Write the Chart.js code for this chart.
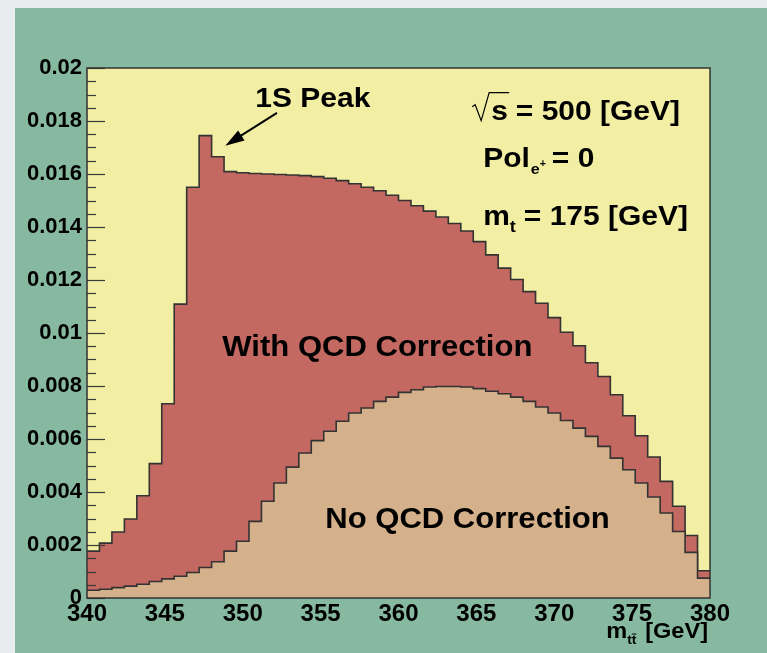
<!DOCTYPE html>
<html>
<head>
<meta charset="utf-8">
<script src="https://cdn.jsdelivr.net/npm/chart.js@4.4.0/dist/chart.umd.min.js"></script>
<style>
  html, body { margin: 0; padding: 0; background: #e9ecef; }
  #panel { position: absolute; left: 15px; top: 8px; width: 752px; height: 645px; background: #86b9a0; }
  #wrap { position: absolute; left: 0; top: 0; width: 767px; height: 653px; }
</style>
</head>
<body>
<div id="panel"></div>
<div id="wrap"><canvas id="mtt-chart" width="767" height="653"></canvas></div>
<script>
// histogram range, 50 bins of 0.8 GeV
const massMin = 340;
const massMax = 380;
const binWidth = 0.8;

// bin contents
const withQCD = [
  0.00177, 0.00207, 0.00249, 0.00298, 0.00386, 0.00507, 0.00733, 0.01109, 0.01550, 0.01745,
  0.01665, 0.01609, 0.01605, 0.01602, 0.01600, 0.01598, 0.01596, 0.01594, 0.01590, 0.01584,
  0.01575, 0.01563, 0.01550, 0.01537, 0.01520, 0.01500, 0.01480, 0.01460, 0.01438, 0.01413,
  0.01385, 0.01345, 0.01295, 0.01245, 0.01202, 0.01156, 0.01112, 0.01058, 0.01003, 0.00952,
  0.00888, 0.00836, 0.00767, 0.00688, 0.00612, 0.00532, 0.00440, 0.00346, 0.00236, 0.00103
];
const noQCD = [
  0.00029, 0.00033, 0.00039, 0.00045, 0.00052, 0.00062, 0.00072, 0.00082, 0.00096, 0.00115,
  0.00137, 0.00177, 0.00214, 0.00289, 0.00365, 0.00434, 0.00494, 0.00547, 0.00594, 0.00629,
  0.00667, 0.00698, 0.00717, 0.00742, 0.00758, 0.00776, 0.00786, 0.00796, 0.00798, 0.00798,
  0.00796, 0.00790, 0.00780, 0.00771, 0.00758, 0.00742, 0.00721, 0.00698, 0.00670, 0.00641,
  0.00610, 0.00572, 0.00528, 0.00484, 0.00434, 0.00381, 0.00321, 0.00251, 0.00172, 0.00075
];

const xTickLabels = ['340', '345', '350', '355', '360', '365', '370', '375', '380'];
const yTickLabels = ['0', '0.002', '0.004', '0.006', '0.008', '0.01', '0.012', '0.014', '0.016', '0.018', '0.02'];

const fontFamily = '"Liberation Sans", Arial, Helvetica, sans-serif';

// stepped line: one point per low edge, plus the upper edge of the last bin
function toSteps(values) {
  const pts = values.map((v, i) => ({ x: massMin + i * binWidth, y: v }));
  pts.push({ x: massMax, y: values[values.length - 1] });
  return pts;
}

function stretchText(ctx, str, x, y, size, sx) {
  ctx.save();
  ctx.font = 'bold ' + size + 'px ' + fontFamily;
  ctx.translate(x, y);
  ctx.scale(sx, 1);
  ctx.fillText(str, 0, 0);
  const w = ctx.measureText(str).width * sx;
  ctx.restore();
  return w;
}

const rootStyle = {
  id: 'rootStyle',
  beforeDatasetsDraw(chart) {
    const { ctx, chartArea: a } = chart;
    ctx.save();
    ctx.fillStyle = '#f2efa4';
    ctx.fillRect(a.left, a.top, a.right - a.left, a.bottom - a.top);
    ctx.restore();
  },
  afterDatasetsDraw(chart) {
    const { ctx, chartArea: a } = chart;
    const xs = chart.scales.x, ys = chart.scales.y;
    const px = v => xs.getPixelForValue(v);
    const py = v => ys.getPixelForValue(v);

    ctx.save();
    // y ticks pointing inward
    ctx.strokeStyle = '#3a3a3a';
    ctx.lineWidth = 1.2;
    for (let i = 0; i <= 40; i++) {
      const y = Math.round(py(i * 0.0005)) + 0.5;
      const len = i % 4 === 0 ? 18 : 9;
      ctx.beginPath();
      ctx.moveTo(a.left, y);
      ctx.lineTo(a.left + len, y);
      ctx.stroke();
    }
    // frame
    ctx.strokeStyle = '#333';
    ctx.lineWidth = 1.5;
    ctx.strokeRect(a.left, a.top, a.right - a.left, a.bottom - a.top);

    ctx.fillStyle = '#000';
    ctx.strokeStyle = '#000';
    ctx.textBaseline = 'alphabetic';
    const sx = 1.07;

    // 1S peak label and arrow
    stretchText(ctx, '1S Peak', px(350.81), py(0.01854), 28, sx);
    const tx = px(348.88), ty = py(0.01707);
    const fx = px(352.2), fy = py(0.01831);
    const ang = Math.atan2(ty - fy, tx - fx);
    ctx.lineWidth = 2;
    ctx.beginPath();
    ctx.moveTo(fx, fy);
    ctx.lineTo(tx - 12 * Math.cos(ang), ty - 12 * Math.sin(ang));
    ctx.stroke();
    ctx.beginPath();
    ctx.moveTo(tx, ty);
    ctx.lineTo(tx - 19 * Math.cos(ang) + 6 * Math.sin(ang), ty - 19 * Math.sin(ang) - 6 * Math.cos(ang));
    ctx.lineTo(tx - 19 * Math.cos(ang) - 6 * Math.sin(ang), ty - 19 * Math.sin(ang) + 6 * Math.cos(ang));
    ctx.closePath();
    ctx.fill();

    // sqrt(s) = 500 [GeV]
    let x0 = px(364.73), b = py(0.01805);
    ctx.lineWidth = 1.2;
    ctx.beginPath();
    ctx.moveTo(x0, b - 13);
    ctx.lineTo(x0 + 3, b - 15);
    ctx.lineTo(x0 + 9, b + 1);
    ctx.lineTo(x0 + 17, b - 27);
    ctx.lineTo(x0 + 37, b - 27);
    ctx.stroke();
    let w = stretchText(ctx, 's', x0 + 19, b, 28, sx);
    stretchText(ctx, '= 500 [GeV]', x0 + 19 + w + 8, b, 28, sx);

    // Pol_e+ = 0
    x0 = px(365.44); b = py(0.01627);
    w = stretchText(ctx, 'Pol', x0, b, 28, sx);
    const we = stretchText(ctx, 'e', x0 + w + 1, b + 7, 15, sx);
    stretchText(ctx, '+', x0 + w + 1 + we, b, 10, sx);
    stretchText(ctx, '= 0', x0 + w + 22, b, 28, sx);

    // m_t = 175 [GeV]
    x0 = px(365.44); b = py(0.01409);
    w = stretchText(ctx, 'm', x0, b, 28, sx);
    stretchText(ctx, 't', x0 + w, b + 7, 17, sx);
    stretchText(ctx, '= 175 [GeV]', x0 + w + 14, b, 28, sx);

    // region labels
    stretchText(ctx, 'With QCD Correction', px(348.69), py(0.00914), 29, sx);
    stretchText(ctx, 'No QCD Correction', px(355.30), py(0.00265), 29, sx);

    // axis title m_tt [GeV], right aligned below the axis
    const tb = a.bottom + 40;
    ctx.font = 'bold 22px ' + fontFamily;
    const wm = ctx.measureText('m').width * sx;
    const wg = ctx.measureText('[GeV]').width * sx;
    const ax = a.right - 2 - wg - 6 - 12 - wm;
    stretchText(ctx, 'm', ax, tb, 22, sx);
    const wt = stretchText(ctx, 't', ax + wm, tb + 6, 13, sx);
    stretchText(ctx, 't', ax + wm + wt, tb + 6, 13, sx);
    ctx.lineWidth = 1;
    ctx.beginPath();
    ctx.moveTo(ax + wm + wt, tb - 4);
    ctx.lineTo(ax + wm + 2 * wt, tb - 4);
    ctx.stroke();
    stretchText(ctx, '[GeV]', a.right - 2 - wg, tb, 22, sx);
    ctx.restore();
  }
};

new Chart(document.getElementById('mtt-chart'), {
  type: 'line',
  data: {
    datasets: [
      {
        label: 'No QCD Correction',
        data: toSteps(noQCD),
        stepped: 'before',
        fill: 'origin',
        backgroundColor: '#d4b18a',
        borderColor: '#333333',
        borderWidth: 1.6,
        pointRadius: 0,
        order: 0
      },
      {
        label: 'With QCD Correction',
        data: toSteps(withQCD),
        stepped: 'before',
        fill: 'origin',
        backgroundColor: '#c46862',
        borderColor: '#333333',
        borderWidth: 1.6,
        pointRadius: 0,
        order: 1
      }
    ]
  },
  options: {
    responsive: false,
    devicePixelRatio: 1,
    animation: false,
    layout: { padding: { top: 68, right: 57, left: 0, bottom: 0 } },
    plugins: {
      legend: { display: false },
      tooltip: { enabled: false }
    },
    scales: {
      x: {
        type: 'linear',
        min: massMin,
        max: massMax,
        grid: { display: false, drawTicks: false },
        border: { display: false },
        ticks: {
          stepSize: 5,
          padding: 2,
          color: '#000',
          maxRotation: 0,
          autoSkip: false,
          font: { family: fontFamily, weight: 'bold', size: 24 },
          callback: (v, i) => xTickLabels[i]
        },
        afterFit: s => { s.height = 55; }
      },
      y: {
        min: 0,
        max: 0.02,
        grid: { display: false, drawTicks: false },
        border: { display: false },
        ticks: {
          stepSize: 0.002,
          padding: 5,
          color: '#000',
          autoSkip: false,
          font: { family: fontFamily, weight: 'bold', size: 22 },
          callback: (v, i) => yTickLabels[i]
        },
        afterFit: s => { s.width = 87; }
      }
    }
  },
  plugins: [rootStyle]
});
</script>
</body>
</html>
